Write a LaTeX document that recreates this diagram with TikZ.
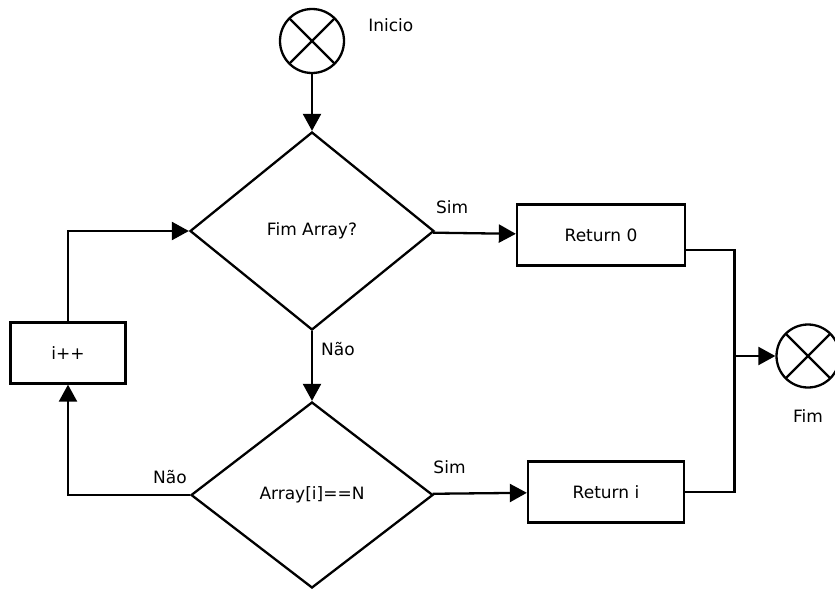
\documentclass[tikz,border=0pt]{standalone}
\usepackage{fontspec}
\setmainfont{DejaVu Sans}
\usetikzlibrary{arrows.meta,shapes.geometric,positioning}

\begin{document}
\begin{tikzpicture}[x=1pt,y=1pt,node distance=190pt,>={Triangle[length=17pt,width=18pt]},
    line width=2.3pt,auto,font=\fontsize{17pt}{20pt}\selectfont]
  \tikzstyle{term}=[circle,draw,minimum size=64pt,
        path picture={\draw (path picture bounding box.north west) -- (path picture bounding box.south east)
          (path picture bounding box.south west) -- (path picture bounding box.north east);}]
  \tikzstyle{decision}=[diamond,draw,minimum width=244pt,minimum height=198pt,inner sep=0pt]
  \tikzstyle{block}=[rectangle,draw,minimum height=61pt]
  \tikzstyle{lbl}=[inner sep=2pt]
  \useasboundingbox (0,0) rectangle (835,-589);
    \node [term, label={[lbl,anchor=west,yshift=16pt,label distance=20pt]east:Inicio}] (start) at (312,-41) {};
    \node [decision] (d1) [below of=start] {Fim Array?};
    \node [decision,minimum width=242pt,minimum height=186pt] (d2) [below of=d1, node distance=264pt] {Array[i]==N};
    \node [block,minimum width=168pt] (ret0) [right of=d1, node distance=289pt, yshift=-4pt] {Return 0};
    \node [block,minimum width=156pt] (reti) [right of=d2, node distance=294pt, yshift=3pt] {Return i};
    \node [block,minimum width=115pt] (inc) at (68,-353) {i++};
    \node [term,minimum size=63pt, label={[lbl,label distance=18pt]below:Fim}] (endc) at (808,-356) {};
    \coordinate [left=41pt of endc.west] (bus);
    \draw [->] (start) -- (d1);
    \draw [->] (d1) -- node [lbl,pos=0.23,above=16pt] {Sim} (ret0);
    \draw [->] (d1) -- node [lbl,pos=0.25,right=6pt] {Não} (d2);
    \draw [->] (d2) -- node [lbl,pos=0.18,above=17pt] {Sim} (reti);
    \draw [->] (d2) -| node [lbl,pos=0,above left=8pt and 0pt] {Não} (inc);
    \draw [->] (inc) |- (d1);
    \draw ([yshift=-15pt]ret0.east) -| (bus) |- (reti);
    \draw [->] (bus) -- (endc);
\end{tikzpicture}
\end{document}
